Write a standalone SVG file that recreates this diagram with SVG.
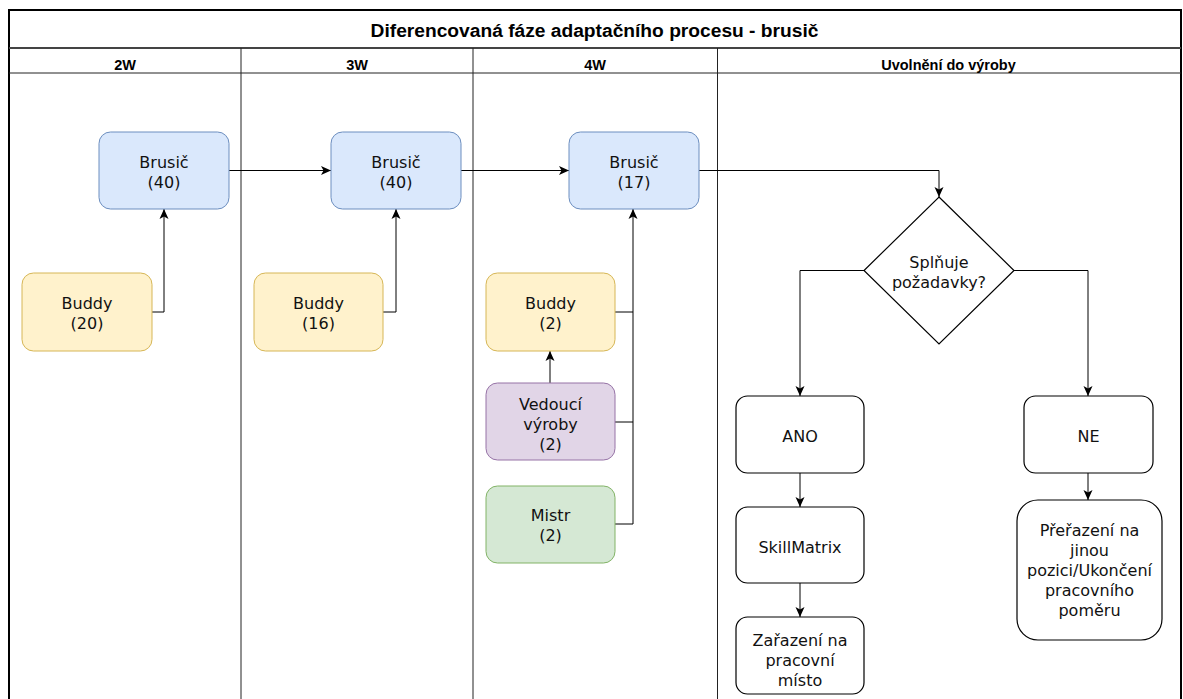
<svg xmlns="http://www.w3.org/2000/svg" width="1183" height="699" viewBox="0 0 1183 699">
  <defs>
    <marker id="arrow" viewBox="0 0 10 10" refX="10" refY="5" markerWidth="10" markerHeight="10" markerUnits="userSpaceOnUse" orient="auto">
      <path d="M0,0.5 L10,5 L0,9.5 L2.5,5 Z" fill="#000"/>
    </marker>
    <style>
      .title { font-family: "Liberation Sans", Arial, sans-serif; font-weight: bold; font-size: 19.2px; fill: #000; text-anchor: middle; }
      .hdr { font-family: "Liberation Sans", Arial, sans-serif; font-weight: bold; font-size: 14.5px; fill: #000; text-anchor: middle; }
      .lbl { font-family: "DejaVu Sans", Verdana, sans-serif; font-size: 16px; fill: #111; text-anchor: middle; }
      .lane { fill: none; stroke: #222; stroke-width: 1; }
      .blue { fill: #dae8fc; stroke: #6c8ebf; stroke-width: 1; }
      .yellow { fill: #fff2cc; stroke: #d6b656; stroke-width: 1; }
      .purple { fill: #e1d5e7; stroke: #9673a6; stroke-width: 1; }
      .green { fill: #d5e8d4; stroke: #82b366; stroke-width: 1; }
      .plain { fill: #ffffff; stroke: #000; stroke-width: 1.2; }
      .edge { fill: none; stroke: #000; stroke-width: 1; marker-end: url(#arrow); }
      .seg { fill: none; stroke: #000; stroke-width: 1; }
    </style>
  </defs>

  <rect x="0" y="0" width="1183" height="699" fill="#ffffff"/>

  <g id="pool">
    <rect x="9" y="10" width="1172" height="720" fill="#ffffff" stroke="#000" stroke-width="2"/>
    <line x1="9" y1="48" x2="1181" y2="48" stroke="#444" stroke-width="1.8"/>
    <line x1="9" y1="73" x2="1181" y2="73" class="lane"/>
    <line x1="241" y1="48" x2="241" y2="699" class="lane"/>
    <line x1="473" y1="48" x2="473" y2="699" class="lane"/>
    <line x1="717.5" y1="48" x2="717.5" y2="699" class="lane"/>
    <text class="title" x="594.5" y="36.5">Diferencovaná fáze adaptačního procesu - brusič</text>
    <text class="hdr" x="125" y="69.5">2W</text>
    <text class="hdr" x="357" y="69.5">3W</text>
    <text class="hdr" x="595" y="69.5">4W</text>
    <text class="hdr" x="948.5" y="69.5">Uvolnění do výroby</text>
  </g>

  <g id="connectors">
    <path class="edge" d="M229,170.5 L331,170.5"/>
    <path class="edge" d="M461,170.5 L569,170.5"/>
    <path class="edge" d="M699,170.5 L939,170.5 L939,197"/>
    <path class="edge" d="M152,312 L164,312 L164,209"/>
    <path class="edge" d="M383,312 L396,312 L396,209"/>
    <path class="edge" d="M615,312 L633,312 L633,209"/>
    <path class="seg" d="M615,422 L633,422 L633,312"/>
    <path class="seg" d="M615,524 L633,524 L633,422"/>
    <path class="edge" d="M550,383 L550,351"/>
    <path class="edge" d="M864,270.5 L800,270.5 L800,396"/>
    <path class="edge" d="M1014,270.5 L1088,270.5 L1088,396"/>
    <path class="edge" d="M800,473 L800,507"/>
    <path class="edge" d="M800,583 L800,617"/>
    <path class="edge" d="M1088,473 L1088,500"/>
  </g>

  <g id="brusic-2w">
    <rect class="blue" x="99" y="132" width="130" height="77" rx="11.5"/>
    <text class="lbl" x="164" y="167.5">Brusič</text>
    <text class="lbl" x="164" y="187.5">(40)</text>
  </g>
  <g id="buddy-2w">
    <rect class="yellow" x="22" y="273" width="130" height="78" rx="11.5"/>
    <text class="lbl" x="87" y="308.5">Buddy</text>
    <text class="lbl" x="87" y="328.5">(20)</text>
  </g>

  <g id="brusic-3w">
    <rect class="blue" x="331" y="132" width="130" height="77" rx="11.5"/>
    <text class="lbl" x="396" y="167.5">Brusič</text>
    <text class="lbl" x="396" y="187.5">(40)</text>
  </g>
  <g id="buddy-3w">
    <rect class="yellow" x="254" y="273" width="129" height="78" rx="11.5"/>
    <text class="lbl" x="318.5" y="308.5">Buddy</text>
    <text class="lbl" x="318.5" y="328.5">(16)</text>
  </g>

  <g id="brusic-4w">
    <rect class="blue" x="569" y="132" width="130" height="77" rx="11.5"/>
    <text class="lbl" x="634" y="167.5">Brusič</text>
    <text class="lbl" x="634" y="187.5">(17)</text>
  </g>
  <g id="buddy-4w">
    <rect class="yellow" x="486" y="273" width="129" height="78" rx="11.5"/>
    <text class="lbl" x="550.5" y="308.5">Buddy</text>
    <text class="lbl" x="550.5" y="328.5">(2)</text>
  </g>
  <g id="vedouci">
    <rect class="purple" x="486" y="383" width="129" height="77" rx="11.5"/>
    <text class="lbl" x="550.5" y="410">Vedoucí</text>
    <text class="lbl" x="550.5" y="430">výroby</text>
    <text class="lbl" x="550.5" y="450">(2)</text>
  </g>
  <g id="mistr">
    <rect class="green" x="486" y="486" width="129" height="77" rx="11.5"/>
    <text class="lbl" x="550.5" y="521">Mistr</text>
    <text class="lbl" x="550.5" y="541">(2)</text>
  </g>

  <g id="decision">
    <polygon class="plain" points="939,197 1014,270.5 939,344 864,270.5"/>
    <text class="lbl" x="939" y="267.5">Splňuje</text>
    <text class="lbl" x="939" y="287.5">požadavky?</text>
  </g>
  <g id="ano">
    <rect class="plain" x="736" y="396" width="128" height="77" rx="11.5"/>
    <text class="lbl" x="800" y="442">ANO</text>
  </g>
  <g id="ne">
    <rect class="plain" x="1024" y="396" width="129" height="77" rx="11.5"/>
    <text class="lbl" x="1088.5" y="442">NE</text>
  </g>
  <g id="skillmatrix">
    <rect class="plain" x="736" y="507" width="128" height="76" rx="11.5"/>
    <text class="lbl" x="800" y="553">SkillMatrix</text>
  </g>
  <g id="zarazeni">
    <rect class="plain" x="736" y="617" width="128" height="77" rx="11.5"/>
    <text class="lbl" x="800" y="645.5">Zařazení na</text>
    <text class="lbl" x="800" y="665.5">pracovní</text>
    <text class="lbl" x="800" y="685.5">místo</text>
  </g>
  <g id="prerazeni">
    <rect class="plain" x="1017" y="500" width="145" height="140" rx="21"/>
    <text class="lbl" x="1089.5" y="536">Přeřazení na</text>
    <text class="lbl" x="1089.5" y="556">jinou</text>
    <text class="lbl" x="1089.5" y="576">pozici/Ukončení</text>
    <text class="lbl" x="1089.5" y="596">pracovního</text>
    <text class="lbl" x="1089.5" y="616">poměru</text>
  </g>
</svg>
